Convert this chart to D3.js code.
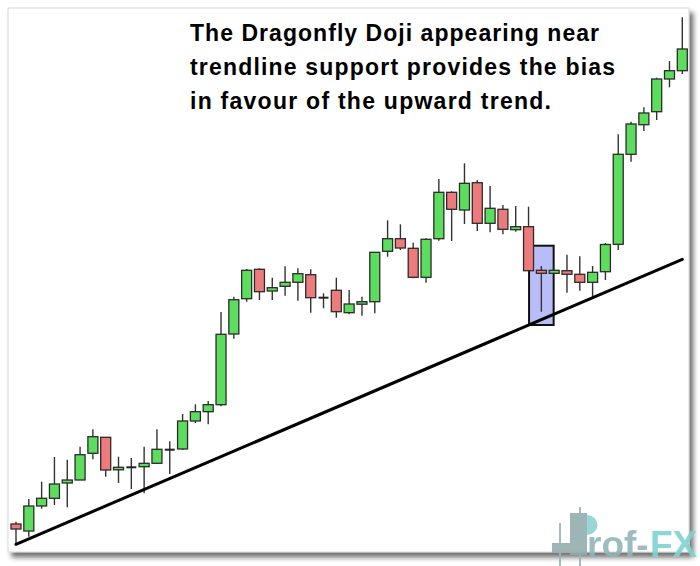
<!DOCTYPE html>
<html lang="en">
    <head>
        <meta charset="utf-8">
        <title>Dragonfly Doji at trendline support</title>
        <script type="text/javascript" src="https://cdn.jsdelivr.net/npm/d3@7"></script>
        <style type="text/css">
        body { margin: 0; background: #fff; }
        .wick { stroke: #333; stroke-width: 1.4px; }
        .body { stroke: #2b2b2b; stroke-width: 1.3px; }
        .note { font-family: "Liberation Sans", Arial, sans-serif; font-weight: bold; font-size: 23px; fill: #000; }
		</style>
    </head>
    <body>
        <script type="text/javascript">

            // candle data (arbitrary price units)
            var opens  = [36, 29, 54, 61.7, 77, 80, 106.7, 122.7, 90.7, 92.7, 93.3, 96.7, 110.3, 111, 139, 148.3, 155.3, 226, 261.3, 290.7,
                          269, 273.7, 277.7, 285.3, 262.3, 269.7, 247.3, 256, 258.3, 308.7, 321.3, 311.7, 282.7, 321.3, 367.7, 350, 377.3, 336.7, 350.7, 330.3,
                          333.3, 289.7, 286.7, 289.3, 285.7, 277.7, 288.3, 315.7, 405.7, 435.3, 448.3, 481, 489.3];
            var highs  = [38.3, 61, 78.3, 103, 100.3, 113.3, 130.7, 123, 103.3, 102, 113.3, 130.7, 118.7, 146, 155.7, 159, 248, 263.3, 291, 291.7,
                          282.3, 293.7, 291.7, 290.7, 266.7, 282.3, 270, 263.3, 307.7, 339.7, 335.7, 317.3, 321.7, 381, 368.7, 396.7, 380, 374, 355, 354,
                          353.3, 294, 289.7, 305.3, 303.7, 294, 317, 425.7, 438.3, 452.7, 482.3, 499, 542.7];
            var lows   = [15.7, 23.3, 51.3, 55, 52.7, 80, 100.7, 83.3, 77, 71, 66.7, 96.7, 86, 110, 137, 135.7, 153.7, 221.3, 258.3, 260,
                          260, 264.3, 259.3, 247.3, 251.7, 242.3, 245.7, 244.3, 246.7, 303.3, 310, 281.7, 277.3, 319.3, 319, 336, 329, 327.7, 325.7, 328.3,
                          289.3, 248.3, 286.7, 267.3, 269.3, 263.3, 280, 310, 398.3, 429, 440, 472.7, 486];
            var closes = [31, 54, 61.7, 76, 80, 105.3, 123.3, 90, 92.7, 92.7, 96.7, 110.7, 110.3, 139, 148.3, 155.3, 225.7, 260.3, 289.7, 268.3,
                          272.3, 277.7, 286.3, 262.3, 262.3, 248.3, 256, 258.3, 307.7, 321.3, 312, 282.7, 320.7, 367.7, 350.7, 376.7, 336.7, 351.7, 330.7, 333.3,
                          289.3, 286.7, 289.7, 285.7, 277.7, 287.7, 315.5, 405.7, 436, 447, 481, 489.3, 511];

            // trendline touch points (candle index, price)
            var trendIdx = [0, 52];
            var trendVal = [15.7, 300.7];

            // the dragonfly doji that gets highlighted
            var dojiIdx = 41;
            var boxVal = [235, 314.3];

            var noteLines = ["The Dragonfly Doji appearing near",
                             "trendline support provides the bias",
                             "in favour of the upward trend."];
            var noteWidths = [409, 425, 361];

            var W = 700, H = 566;

            var svg = d3.select("body")
                        .append("svg")
                            .attr("width", W)
                            .attr("height", H);

            var defs = svg.append("defs");
            var shadow = defs.append("filter").attr("id", "shadow")
                .attr("x", "-5%").attr("y", "-5%").attr("width", "115%").attr("height", "115%");
            shadow.append("feDropShadow")
                .attr("dx", 4).attr("dy", 5)
                .attr("stdDeviation", 2.5)
                .attr("flood-color", "#444")
                .attr("flood-opacity", 0.75);

            // panel
            svg.append("rect")
                .attr("x", 8).attr("y", 8)
                .attr("width", 681).attr("height", 544)
                .attr("fill", "#fff")
                .attr("stroke", "#d8d8d8")
                .attr("stroke-width", 1)
                .attr("filter", "url(#shadow)");

            var data = opens.map(function(o, i) {
                return {i: i, open: o, high: highs[i], low: lows[i], close: closes[i]};
            });

            var XScale = d3.scalePoint().domain(d3.range(data.length)).range([16, 682.3]);
            var YScale = d3.scaleLinear().domain([0, 560]).range([560, 0]);
            var step = XScale.step();
            var bw = 10;

            // highlight box behind the doji
            svg.append("rect")
                .attr("x", XScale(dojiIdx) - step * 0.96)
                .attr("y", YScale(boxVal[1]))
                .attr("width", step * 1.92)
                .attr("height", YScale(boxVal[0]) - YScale(boxVal[1]))
                .attr("fill", "#b9bdf7")
                .attr("stroke", "#111")
                .attr("stroke-width", 2);

            var candle = svg.selectAll(".candle")
                .data(data)
                .enter().append("g")
                .attr("class", "candle");

            candle.append("line")
                .attr("class", "wick")
                .attr("x1", d => XScale(d.i)).attr("x2", d => XScale(d.i))
                .attr("y1", d => YScale(d.high)).attr("y2", d => YScale(d.low));

            candle.filter(d => d.open != d.close).append("rect")
                .attr("class", "body")
                .attr("x", d => XScale(d.i) - bw / 2)
                .attr("width", bw)
                .attr("y", d => YScale(Math.max(d.open, d.close)))
                .attr("height", d => Math.max(2.5, Math.abs(YScale(d.open) - YScale(d.close))))
                .attr("fill", d => d.close > d.open ? "#5ddd5d" : "#ee7b7b");

            candle.filter(d => d.open == d.close).append("line")
                .attr("x1", d => XScale(d.i) - bw / 2).attr("x2", d => XScale(d.i) + bw / 2)
                .attr("y1", d => YScale(d.open)).attr("y2", d => YScale(d.open))
                .attr("stroke", "#222")
                .attr("stroke-width", 2);

            // trendline
            svg.append("line")
                .attr("x1", XScale(trendIdx[0])).attr("y1", YScale(trendVal[0]))
                .attr("x2", XScale(trendIdx[1])).attr("y2", YScale(trendVal[1]))
                .attr("stroke", "#000")
                .attr("stroke-width", 3)
                .attr("stroke-linecap", "round");

            // note
            svg.selectAll(".note")
                .data(noteLines)
                .enter().append("text")
                .attr("class", "note")
                .attr("x", 190)
                .attr("y", (d, i) => 41 + i * 34)
                .attr("textLength", (d, i) => noteWidths[i])
                .attr("lengthAdjust", "spacing")
                .text(d => d);

            // watermark logo
            var logo = svg.append("g").attr("opacity", 0.9);
            logo.append("line").attr("x1", 560).attr("x2", 560).attr("y1", 523).attr("y2", 566)
                .attr("stroke", "#9db3b4").attr("stroke-width", 2);
            logo.append("rect").attr("x", 552).attr("y", 543).attr("width", 18).attr("height", 10).attr("fill", "#93adae");
            logo.append("line").attr("x1", 580).attr("x2", 580).attr("y1", 507).attr("y2", 566)
                .attr("stroke", "#9db3b4").attr("stroke-width", 2);
            logo.append("rect").attr("x", 570).attr("y", 513).attr("width", 17).attr("height", 42).attr("fill", "#93adae");
            logo.append("path")
                .attr("d", "M587,515 A10.5,10 0 1 1 587,535 Z")
                .attr("fill", "#8fd3d3");
            logo.append("text").attr("x", 587).attr("y", 557)
                .style("font-family", "Liberation Sans, Arial, sans-serif")
                .style("font-weight", "bold").style("font-size", "37px")
                .attr("fill", "#93b5b6").text("rof-");
            logo.append("text").attr("x", 650).attr("y", 557)
                .style("font-family", "Liberation Sans, Arial, sans-serif")
                .style("font-weight", "bold").style("font-size", "37px")
                .attr("fill", "#80d2d2").text("FX");
        </script>
    </body>
</html>
